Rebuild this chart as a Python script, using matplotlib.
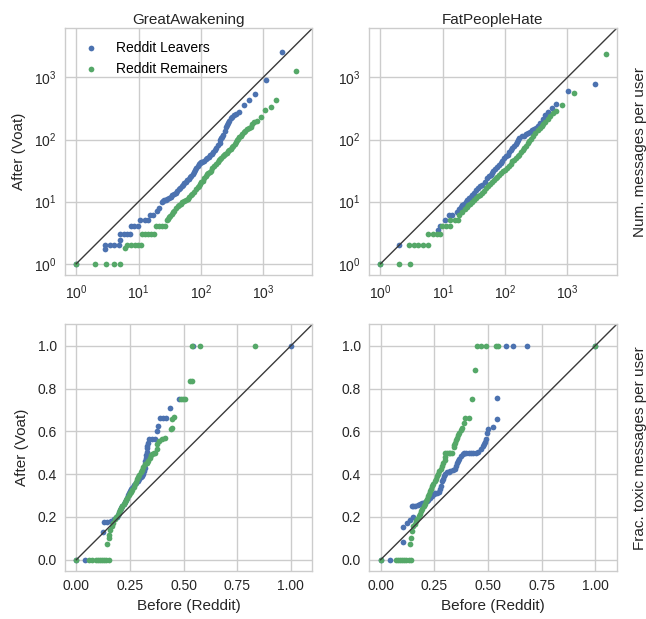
import matplotlib
matplotlib.use("Agg")
import matplotlib.pyplot as plt

plt.rcParams['font.family'] = ['Liberation Sans', 'DejaVu Sans']

BLUE = '#4C72B0'
GREEN = '#55A868'

titles = ['GreatAwakening', 'FatPeopleHate']
row_labels = ['Num. messages per user', 'Frac. toxic messages per user']
legend_labels = ['Reddit Leavers', 'Reddit Remainers']

# Each series: list of (before on Reddit, after on Voat) quantile pairs

# ---- GreatAwakening: number of messages ----
ga_num_leave = [
    (1, 1), (2.95, 1.7), (2.95, 2), (3.47, 2), (4.07, 2), (4.79, 2), (5.0, 2.45), (5.0, 3),
    (5.75, 3), (6.6, 3), (7.24, 3), (7.6, 4), (8.5, 4), (9.8, 4), (10.7, 5), (12.6, 5),
    (14.1, 5), (15.1, 6), (17.0, 6), (19.5, 7.1), (21.4, 7.9), (23.4, 10), (24.5, 10.2),
    (25.7, 10.5), (27.2, 10.8), (28.8, 11), (31, 11.5), (33.1, 12), (35, 12.6), (37.2, 13.2),
    (39.5, 14), (41.7, 14.8), (44, 15.7), (46.8, 16.6), (49, 17.6), (51.3, 18.6), (54.5, 19.7),
    (57.5, 20.9), (61, 22), (64.6, 23.4), (67.6, 24.8), (70.8, 26.3), (74, 28.2), (77.6, 30.2),
    (81, 32.4), (85.1, 34.7), (89, 37.2), (93.3, 39.8), (96.5, 41.2), (100, 42.7), (106, 44.2),
    (112, 45.7), (119, 47.9), (126, 50.1), (133, 53), (141, 56.2), (150, 59.5), (158, 63.1),
    (168, 68.4), (178, 74.1), (189, 81), (200, 89.1), (204, 97), (209, 105), (218, 111),
    (229, 117), (240, 138), (251, 158), (260, 170), (269, 182), (285, 200), (302, 219),
    (320, 232), (339, 245), (370, 260), (407, 275), (490, 355), (589, 427), (741, 537),
    (1122, 891), (2042, 2570)]
ga_num_remain = [
    (1, 1), (2, 1), (3, 1), (4, 1), (5, 1), (6.0, 1.8), (6.6, 2), (7.6, 2), (8.7, 2), (9.8, 2),
    (11, 2), (11.5, 3), (12.6, 3), (14.1, 3), (15.8, 3), (17.8, 3), (19, 4), (21.4, 4), (24, 4),
    (26.9, 4), (28.2, 5), (29.5, 5.3), (30.9, 5.6), (32.4, 5.9), (33.9, 6.3), (35.5, 6.7),
    (37.2, 7.1), (40, 7.8), (42.7, 8.5), (45, 8.9), (47.9, 9.3), (50.7, 9.7), (53.7, 10.2),
    (57.5, 10.7), (61.7, 11.2), (65.5, 11.9), (69.2, 12.6), (73.4, 13.5), (77.6, 14.5),
    (83, 15.9), (89.1, 17.4), (92, 18.2), (95.5, 19.1), (101, 20.4), (107, 21.9), (113, 24),
    (120, 26.3), (126, 27.5), (132, 28.8), (138, 30.2), (145, 31.6), (153, 34.5), (162, 38),
    (174, 41), (186, 43.7), (193, 46.3), (200, 49), (212, 51.3), (224, 53.7), (235, 56.2),
    (245, 58.9), (260, 61.7), (275, 64.6), (288, 67.6), (302, 70.8), (316, 75), (331, 79.4),
    (347, 85), (363, 91.2), (380, 96.5), (398, 102), (417, 108), (437, 115), (462, 123),
    (490, 132), (518, 138), (550, 145), (590, 153), (631, 162), (668, 176), (708, 191),
    (794, 200), (933, 234), (1072, 295), (1318, 331), (1622, 437), (3311, 1259)]

# ---- FatPeopleHate: number of messages ----
fph_num_leave = [
    (1, 1), (1.98, 2), (8.5, 3.5), (8.9, 4), (11, 5), (12.6, 6), (14.2, 6), (16.6, 6.9),
    (18, 7.6), (19.4, 8.3), (20.6, 8.8), (21.9, 9.2), (23.3, 9.9), (24.8, 10.6), (26.4, 11.3),
    (28.1, 12), (29.8, 13), (31.6, 14), (34, 15.5), (36.8, 16.9), (40, 17.8), (43.2, 18.6),
    (47.5, 21), (52, 23.9), (55.5, 25.5), (58.9, 27), (61.7, 28.8), (64.6, 30.6), (70, 33.2),
    (75.3, 36.1), (80, 38.9), (85.1, 41.7), (90, 45.7), (95.5, 50.5), (102, 53.7), (110, 57.1),
    (116, 62), (123, 67.1), (131, 73), (140, 80), (147, 85), (154, 90.6), (161, 98), (168, 106),
    (185, 112), (202, 116), (218, 121), (234, 126), (252, 134), (272, 142), (290, 148),
    (309, 155), (338, 168), (366, 182), (400, 214), (435, 245), (490, 280), (556, 318),
    (653, 378), (1019, 608), (2729, 794)]
fph_num_remain = [
    (1, 1), (1.98, 1), (2.98, 1), (2.9, 2), (3.46, 2), (4.06, 2), (4.89, 2), (5.89, 2),
    (5.89, 3), (6.92, 3), (8.04, 3), (9.12, 3), (9.66, 4), (11.35, 4), (13.2, 4), (13.2, 5),
    (15.5, 5), (17.5, 5), (18.2, 6), (20.6, 6.9), (22.4, 7.6), (24.2, 8.3), (25.8, 8.7),
    (27.4, 9.1), (29.5, 9.8), (31.6, 10.6), (34.3, 11.5), (37.2, 12.4), (40, 13), (43.2, 13.6),
    (46, 15), (49, 16.4), (53, 17.8), (57.5, 19.1), (62, 20.7), (66.5, 22.4), (70.8, 23.9),
    (75.3, 25.4), (80, 27), (85.1, 28.8), (92, 30.7), (98.9, 32.7), (107, 35.2), (116, 37.8),
    (124, 41), (131, 44.6), (139, 47.5), (148, 50.5), (158, 53.7), (168, 57.1), (179, 62),
    (191, 67.1), (203, 73.5), (215, 80), (229, 87), (243, 94), (259, 103), (275, 113),
    (302, 126), (331, 140), (357, 152), (384, 164), (411, 177), (440, 191), (485, 214),
    (530, 239), (590, 263), (661, 288), (832, 355), (1259, 571), (4207, 2399)]

# ---- GreatAwakening: fraction of toxic messages ----
ga_tox_leave = [
    (0, 0), (0.042, 0), (0.125, 0.13), (0.13, 0.175), (0.145, 0.175), (0.16, 0.18),
    (0.175, 0.19), (0.19, 0.20), (0.195, 0.21), (0.20, 0.22), (0.205, 0.23), (0.21, 0.24),
    (0.215, 0.25), (0.22, 0.26), (0.225, 0.27), (0.23, 0.28), (0.235, 0.29), (0.24, 0.30),
    (0.245, 0.31), (0.25, 0.32), (0.255, 0.33), (0.26, 0.335), (0.265, 0.34), (0.27, 0.35),
    (0.278, 0.36), (0.285, 0.37), (0.292, 0.378), (0.30, 0.385), (0.305, 0.392), (0.31, 0.40),
    (0.315, 0.415), (0.318, 0.43), (0.32, 0.445), (0.322, 0.46), (0.324, 0.475), (0.326, 0.49),
    (0.328, 0.505), (0.33, 0.52), (0.331, 0.53), (0.333, 0.545), (0.338, 0.566), (0.352, 0.566),
    (0.366, 0.566), (0.376, 0.60), (0.38, 0.625), (0.39, 0.66), (0.405, 0.66), (0.42, 0.66),
    (0.438, 0.708), (0.48, 0.75), (0.545, 1.0), (1.0, 1.0)]
ga_tox_remain = [
    (0, 0), (0.06, 0), (0.075, 0), (0.09, 0), (0.10, 0), (0.11, 0), (0.12, 0), (0.13, 0),
    (0.14, 0), (0.15, 0), (0.145, 0.075), (0.152, 0.10), (0.152, 0.115), (0.156, 0.14),
    (0.164, 0.156), (0.172, 0.17), (0.18, 0.19), (0.186, 0.2), (0.192, 0.21), (0.197, 0.222),
    (0.203, 0.234), (0.208, 0.243), (0.214, 0.253), (0.22, 0.262), (0.227, 0.27), (0.232, 0.28),
    (0.238, 0.29), (0.244, 0.30), (0.25, 0.31), (0.255, 0.318), (0.261, 0.328), (0.267, 0.34),
    (0.273, 0.352), (0.278, 0.363), (0.283, 0.375), (0.289, 0.386), (0.294, 0.398),
    (0.30, 0.41), (0.305, 0.42), (0.312, 0.433), (0.32, 0.445), (0.328, 0.453), (0.336, 0.46),
    (0.342, 0.475), (0.348, 0.487), (0.354, 0.493), (0.36, 0.497), (0.367, 0.50),
    (0.375, 0.516), (0.378, 0.54), (0.386, 0.555), (0.398, 0.5625), (0.414, 0.57),
    (0.442, 0.61), (0.448, 0.617), (0.448, 0.656), (0.455, 0.667), (0.489, 0.75),
    (0.495, 0.75), (0.505, 0.75), (0.528, 0.833), (0.539, 0.833), (0.539, 1.0), (0.578, 1.0),
    (0.833, 1.0)]

# ---- FatPeopleHate: fraction of toxic messages ----
fph_tox_leave = [
    (0, 0), (0.045, 0), (0.106, 0.083), (0.106, 0.153), (0.122, 0.172), (0.1375, 0.1875),
    (0.153, 0.20), (0.145, 0.25), (0.153, 0.25), (0.161, 0.253), (0.172, 0.255), (0.184, 0.258),
    (0.195, 0.263), (0.205, 0.269), (0.214, 0.275), (0.223, 0.281), (0.231, 0.289),
    (0.239, 0.297), (0.247, 0.305), (0.255, 0.3125), (0.262, 0.314), (0.27, 0.316),
    (0.277, 0.33), (0.283, 0.344), (0.286, 0.367), (0.29, 0.378), (0.294, 0.39), (0.30, 0.40),
    (0.309, 0.409), (0.317, 0.41), (0.325, 0.414), (0.335, 0.42), (0.345, 0.425), (0.35, 0.44),
    (0.356, 0.453), (0.362, 0.462), (0.367, 0.472), (0.375, 0.485), (0.383, 0.495),
    (0.39, 0.5), (0.398, 0.50), (0.41, 0.5), (0.419, 0.50), (0.432, 0.5), (0.445, 0.50),
    (0.455, 0.505), (0.466, 0.519), (0.475, 0.53), (0.481, 0.539), (0.485, 0.55),
    (0.489, 0.566), (0.495, 0.59), (0.502, 0.6125), (0.523, 0.622), (0.544, 0.659),
    (0.544, 0.755), (0.583, 1.0), (0.619, 1.0), (0.684, 1.0), (1.0, 1.0)]
fph_tox_remain = [
    (0, 0), (0.07, 0), (0.08, 0), (0.09, 0), (0.10, 0), (0.11, 0), (0.12, 0), (0.13, 0),
    (0.14, 0), (0.1375, 0.073), (0.142, 0.10), (0.145, 0.133), (0.153, 0.156), (0.158, 0.168),
    (0.164, 0.18), (0.17, 0.19), (0.177, 0.203), (0.183, 0.215), (0.189, 0.227), (0.195, 0.238),
    (0.20, 0.25), (0.206, 0.262), (0.211, 0.273), (0.216, 0.285), (0.22, 0.297), (0.224, 0.308),
    (0.228, 0.32), (0.234, 0.332), (0.239, 0.344), (0.246, 0.355), (0.252, 0.367),
    (0.258, 0.378), (0.2625, 0.39), (0.268, 0.402), (0.273, 0.414), (0.28, 0.425),
    (0.286, 0.4375), (0.292, 0.452), (0.298, 0.466), (0.30, 0.48), (0.302, 0.497), (0.31, 0.5),
    (0.317, 0.50), (0.325, 0.5), (0.333, 0.50), (0.34, 0.528), (0.344, 0.537), (0.348, 0.547),
    (0.352, 0.558), (0.356, 0.57), (0.362, 0.582), (0.367, 0.594), (0.373, 0.605),
    (0.38, 0.617), (0.387, 0.64), (0.395, 0.664), (0.411, 0.664), (0.427, 0.75),
    (0.439, 0.8875), (0.45, 1.0), (0.47, 1.0), (0.489, 1.0), (0.539, 1.0), (0.548, 1.0),
    (1.0, 1.0)]

panels = [
    [(ga_num_leave, ga_num_remain), (fph_num_leave, fph_num_remain)],
    [(ga_tox_leave, ga_tox_remain), (fph_tox_leave, fph_tox_remain)],
]

fig, axes = plt.subplots(2, 2, figsize=(6.46, 6.19), dpi=100)
fig.subplots_adjust(left=0.1006, right=0.9546, bottom=0.0775, top=0.9543,
                    wspace=0.23, hspace=0.2)

for r in range(2):
    for c in range(2):
        ax = axes[r][c]
        ax.set_facecolor('white')
        ax.set_axisbelow(True)
        ax.grid(True, which='major', color='#cccccc', linewidth=1.0)
        for sp in ax.spines.values():
            sp.set_color('#cccccc')
            sp.set_linewidth(1.0)
        leave, remain = panels[r][c]
        lx = [p[0] for p in leave]
        ly = [p[1] for p in leave]
        gx = [p[0] for p in remain]
        gy = [p[1] for p in remain]
        ax.scatter(lx, ly, s=17, color=BLUE, linewidths=0, label=legend_labels[0], zorder=1)
        ax.scatter(gx, gy, s=17, color=GREEN, linewidths=0, label=legend_labels[1], zorder=1)
        if r == 0:
            ax.set_xscale('log')
            ax.set_yscale('log')
            ax.plot([1, 1e4], [1, 1e4], color='#3a3a3a', linewidth=1.0, zorder=2)
            lim = (10 ** -0.18, 10 ** 3.79)
            ax.set_xlim(lim)
            ax.set_ylim(lim)
            ax.set_title(titles[c], fontsize=11, pad=3, color='#262626')
        else:
            ax.plot([0, 1.2], [0, 1.2], color='#3a3a3a', linewidth=1.0, zorder=2)
            ax.set_xlim(-0.053, 1.10)
            ax.set_ylim(-0.053, 1.10)
            ax.set_xticks([0, 0.25, 0.5, 0.75, 1.0])
            ax.set_xticklabels(['0.00', '0.25', '0.50', '0.75', '1.00'])
            ax.set_yticks([0, 0.2, 0.4, 0.6, 0.8, 1.0])
            ax.set_yticklabels(['0.0', '0.2', '0.4', '0.6', '0.8', '1.0'])
            ax.set_xlabel('Before (Reddit)', fontsize=11, color='#262626')
        ax.tick_params(which='both', length=0, pad=6, labelsize=10, colors='#262626')
        ax.minorticks_off()
        if c == 0:
            ax.set_ylabel('After (Voat)', fontsize=11, color='#262626', labelpad=6)
        else:
            ax.text(1.095, 0.5, row_labels[r], transform=ax.transAxes, rotation=90,
                    ha='center', va='center', fontsize=11, color='#262626')

axes[0][0].legend(loc='upper left', frameon=False, fontsize=10, scatterpoints=1,
                  handletextpad=0.8, borderaxespad=0.5)

fig.savefig('out.png', dpi=100, facecolor='white')
